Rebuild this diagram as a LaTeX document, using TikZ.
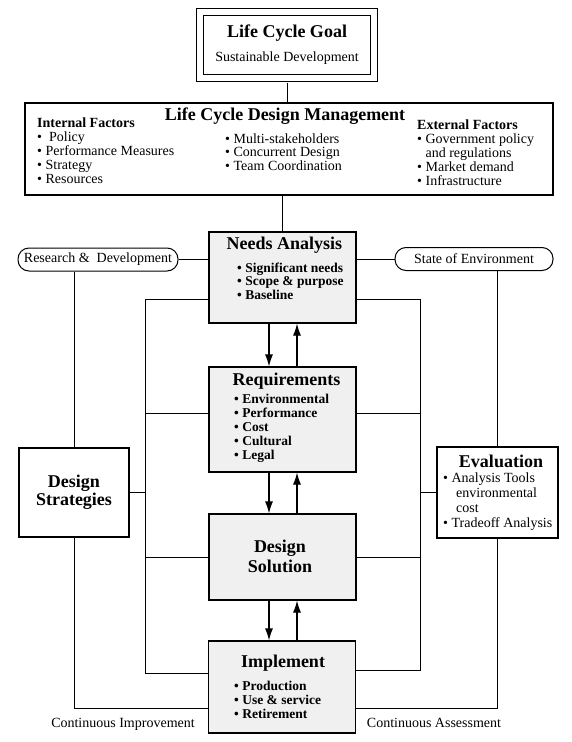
\documentclass[tikz,border=0pt]{standalone}
\usepackage{fontspec}
\setmainfont{Liberation Serif}
\usetikzlibrary{positioning,arrows.meta}

\newcommand\headfont{\fontsize{18}{18}\selectfont\bfseries}
\newcommand\bodyfont{\fontsize{14}{14}\selectfont}
\newcommand\listfont{\fontsize{13.5}{14}\selectfont\bfseries}

\begin{document}
\begin{tikzpicture}[
  x=1pt, y=-1pt,
  font=\bodyfont,
  stage/.style={
    draw,
    line width=1.1pt,
    fill=gray!12,
    minimum width=147pt,
    inner sep=0pt
  },
  side/.style={draw, line width=1.1pt, fill=white, inner sep=0pt},
  pill/.style={draw, line width=1pt, rounded corners=11pt, minimum height=23pt, inner sep=0pt},
  txt/.style={inner sep=0pt, align=left, anchor=north west},
  link/.style={line width=1pt},
  flow/.style={-{Latex[length=12pt,width=8pt]}, line width=1.1pt}
]
\useasboundingbox (0,0) rectangle (571,742);

% goal and management
\node[draw, double, double distance=6.5pt, line width=1pt,
  minimum width=174pt, minimum height=66pt, inner sep=0pt] (goal) at (287,45) {};
\node[anchor=base, font=\headfont] (goalhead) at (287,37) {Life Cycle Goal};
\node[anchor=base] (goalsub) at (287,61) {Sustainable Development};

\node[side, minimum width=528pt, minimum height=92pt] (mgmt) at (289,149) {};
\node[anchor=base, font=\headfont] (mgmthead) at (285,120) {Life Cycle Design Management};
\node[txt] (internal) at (37,118) {\textbf{Internal Factors}\\
  •\ \ Policy\\ • Performance Measures\\ • Strategy\\ • Resources};
\node[txt, font=\fontsize{14}{12.5}\selectfont] (middle) at (225,134) {• Multi-stakeholders\\
  • Concurrent Design\\ • Team Coordination};
\node[txt] (external) at (417,120) {\textbf{External Factors}\\
  • Government policy\\ \hphantom{• }and regulations\\ • Market demand\\ • Infrastructure};

% life cycle stages
\node[stage, minimum height=91pt] (needs) at (282.5,277.5) {};
\node[anchor=base, font=\headfont] (needshead) at (284.5,249) {Needs Analysis};
\node[txt, font=\fontsize{13.5}{13.5}\selectfont\bfseries] (needslist) at (237,262.5) {• Significant needs\\
  • Scope \& purpose\\ • Baseline};

\node[stage, minimum height=105pt] (req) at (282.5,419.5) {};
\node[anchor=base, font=\headfont] (reqhead) at (286.5,385) {Requirements};
\node[txt, font=\listfont] (reqlist) at (234,393.5) {• Environmental\\ • Performance\\
  • Cost\\ • Cultural\\ • Legal};

\node[stage, minimum height=86pt] (sol) at (282.5,557) {};
\node[font=\headfont, align=center, inner sep=0pt] (solhead) at (280,556) {Design\\[2pt]Solution};

\node[stage, minimum height=92pt] (impl) at (282,687) {};
\node[anchor=base, font=\headfont] (implhead) at (283,667) {Implement};
\node[txt, font=\listfont] (impllist) at (234,680.5) {• Production\\ • Use \& service\\ • Retirement};

% side boxes
\node[pill, minimum width=160pt] (rd) at (98,259.5) {Research \&\ \ Development};
\node[pill, minimum width=158pt] (soe) at (474,259) {State of Environment};

\node[side, minimum width=110pt, minimum height=89pt, font=\headfont, align=center] (ds)
  at (74,492.5) {Design\\Strategies};
\node[side, minimum width=121pt, minimum height=91pt] (eval) at (497.5,492.5) {};
\node[anchor=base, font=\headfont] (evalhead) at (501,467) {Evaluation};
\node[txt, font=\fontsize{14}{15}\selectfont] (evallist) at (443,473) {• Analysis Tools\\
  \hspace*{13pt}environmental\\ \hspace*{13pt}cost\\ • Tradeoff Analysis};

\node[anchor=base] (improve) at (123,727) {Continuous Improvement};
\node[anchor=base] (assess) at (434,727) {Continuous Assessment};

% connectors
\draw[link] ([yshift=-4pt]goal.south) -- (goal.south |- mgmt.north);
\draw[link] (needs.north) -- (needs.north |- mgmt.south);
\draw[link] (rd.east) -- (rd.east -| needs.west);
\draw[link] (soe.west) -- (soe.west -| needs.east);
\draw[link] (ds.north) -- (ds.north |- rd.south);
\draw[link] (eval.north) -- (eval.north |- soe.south);
\draw[link] (ds.south) |- ([yshift=25pt]impl.south west);
\draw[link] (eval.south) |- ([yshift=25pt]impl.south east);

\coordinate (lbus) at (145,0);
\coordinate (rbus) at (420,0);
\coordinate (nl) at ([yshift=24pt]needs.south west);
\coordinate (nr) at ([yshift=24pt]needs.south east);
\coordinate (rl) at ([yshift=6.5pt]req.west);
\coordinate (rr) at ([yshift=6.5pt]req.east);
\coordinate (il) at ([yshift=14pt]impl.west);
\coordinate (ir) at ([yshift=17pt]impl.east);
\draw[link] (nl) -- (nl -| lbus) -- (il -| lbus) -- (il);
\draw[link] (nr) -- (nr -| rbus) -- (ir -| rbus) -- (ir);
\draw[link] (rl) -- (rl -| lbus);
\draw[link] (rr) -- (rr -| rbus);
\draw[link] (ds.east) -- (ds.east -| lbus);
\draw[link] (eval.west) -- (eval.west -| rbus);
\draw[link] (sol.west) -- (sol.west -| lbus);
\draw[link] (sol.east) -- (sol.east -| rbus);

\draw[flow] ([xshift=-13.5pt]needs.south) -- ([xshift=-13.5pt]req.north);
\draw[flow] ([xshift=14.5pt]req.north) -- ([xshift=14.5pt]needs.south);
\draw[flow] ([xshift=-13.5pt]req.south) -- ([xshift=-13.5pt]sol.north);
\draw[flow] ([xshift=14.5pt]sol.north) -- ([xshift=14.5pt]req.south);
\draw[flow] ([xshift=-13.5pt]sol.south) -- ([xshift=-13pt]impl.north);
\draw[flow] ([xshift=15pt]impl.north) -- ([xshift=14.5pt]sol.south);
\end{tikzpicture}
\end{document}
